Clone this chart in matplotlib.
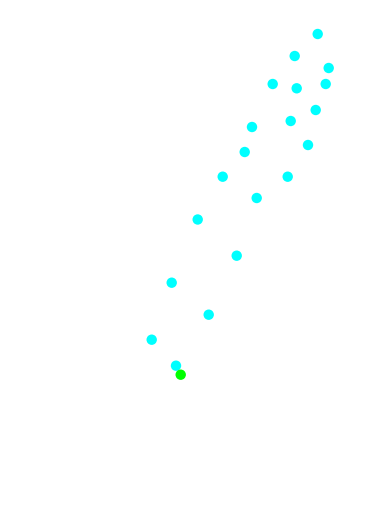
import matplotlib
matplotlib.use("Agg")
import matplotlib.pyplot as plt

# Data
x_values = [317.7, 294.7, 328.7, 272.7, 296.7, 325.7, 315.7, 290.7, 252.0, 308.0,
            244.7, 222.7, 287.7, 256.7, 197.7, 236.7, 171.7, 208.7, 151.7, 176.0]
y_values = [475.0, 453.0, 441.0, 425.0, 420.7, 425.0, 399.0, 388.0, 382.0, 364.0,
            357.0, 332.3, 332.3, 311.0, 289.5, 253.3, 226.3, 194.3, 169.3, 143.3]
highlight_x = [180.7]
highlight_y = [134.3]

fig = plt.figure(figsize=(3.75, 5.09), dpi=100)
ax = fig.add_axes([0, 0, 1, 1])
ax.scatter(x_values, y_values, s=56, c="#00FFFF", edgecolors="none")
ax.scatter(highlight_x, highlight_y, s=56, c="#00FF00", edgecolors="none")
ax.set_xlim(0, 375)
ax.set_ylim(0, 509)
ax.axis("off")
fig.savefig("out.png", dpi=100, facecolor="white")
